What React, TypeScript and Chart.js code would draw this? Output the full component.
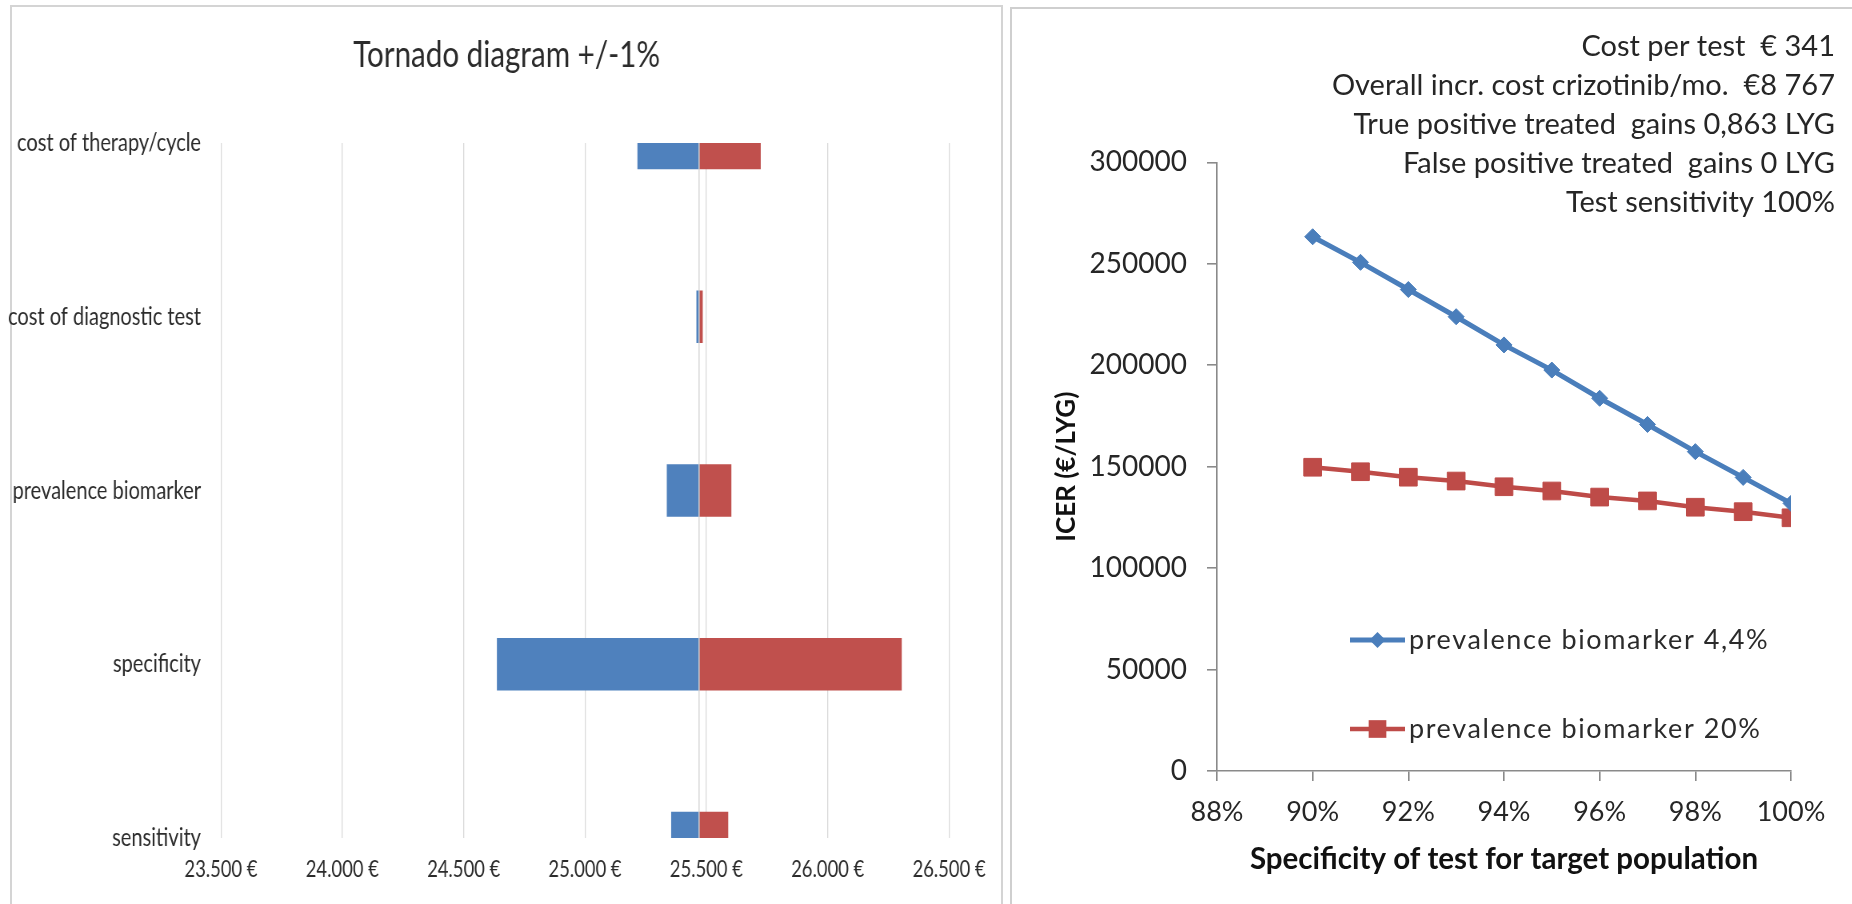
import React, { useEffect, useRef } from 'react';
import { Chart, registerables } from 'chart.js';

Chart.register(...registerables);

// ---------- Data: tornado diagram ----------
const tornadoTitle = 'Tornado diagram +/-1%';
const tornadoCategories = [
  'cost of therapy/cycle',
  'cost of diagnostic test',
  'prevalence biomarker',
  'specificity',
  'sensitivity',
];
const tornadoBase = 25470;
const tornadoLow = [25217, 25460, 25338, 24638, 25356];
const tornadoHigh = [25723, 25484, 25602, 26304, 25589];
const tornadoAxisMin = 23500;
const tornadoAxisMax = 26500;
const tornadoAxisStep = 500;

// ---------- Data: ICER vs specificity ----------
const specificityPct = [90, 91, 92, 93, 94, 95, 96, 97, 98, 99, 100];
const icerPrev44 = [263300, 250700, 237300, 223900, 210000, 197600, 183700, 170800, 157400, 144700, 131900];
const icerPrev20 = [149700, 147500, 144800, 142900, 140100, 138000, 135000, 133100, 130000, 127800, 124800];
const seriesLabels = ['prevalence biomarker 4,4%', 'prevalence biomarker 20%'];
const xAxisTitle = 'Specificity of test for target population';
const yAxisTitle = 'ICER (€/LYG)';
const annotationLines = [
  'Cost per test  € 341',
  'Overall incr. cost crizotinib/mo.  €8 767',
  'True positive treated  gains 0,863 LYG',
  'False positive treated  gains 0 LYG',
  'Test sensitivity 100%',
];

// ---------- Styling / layout ----------
const BLUE = '#4F81BD';
const RED = '#C0504D';
const LINE_BLUE = '#4A7EBB';
const LINE_RED = '#BE4B48';
const SX = 0.8; // horizontal condensation of the left panel
const LEFT_W = 1250;
const LEFT_H = 904;
const RIGHT_W = 837;
const RIGHT_H = 894;
const LEGEND_ROW_OFFSETS = [477.7, 566.7];

const fmtEuro = (v: number) => {
  const th = Math.floor(v / 1000);
  const rest = String(Math.round(v % 1000)).padStart(3, '0');
  return `${th}.${rest} €`;
};

const baseLinePlugin = {
  id: 'baseLine',
  afterDatasetsDraw(chart: any) {
    const { ctx, chartArea, scales } = chart;
    const x = scales.x.getPixelForValue(tornadoBase);
    ctx.save();
    ctx.strokeStyle = '#d4d4d4';
    ctx.lineWidth = 1.4;
    ctx.beginPath();
    ctx.moveTo(x, chartArea.top);
    ctx.lineTo(x, chartArea.bottom);
    ctx.stroke();
    ctx.restore();
  },
};

const tornadoTitlePlugin = {
  id: 'tornadoTitle',
  afterDraw(chart: any) {
    const { ctx, chartArea } = chart;
    ctx.save();
    ctx.font = 'normal 37px Lato';
    ctx.fillStyle = '#2b2b2b';
    ctx.textAlign = 'center';
    ctx.textBaseline = 'middle';
    ctx.fillText(tornadoTitle, chartArea.left + 357, 55);
    ctx.restore();
  },
};

function drawMarker(ctx: CanvasRenderingContext2D, style: string, x: number, y: number, r: number, color: string) {
  ctx.save();
  ctx.fillStyle = color;
  ctx.beginPath();
  if (style === 'rectRot') {
    ctx.moveTo(x, y - r);
    ctx.lineTo(x + r, y);
    ctx.lineTo(x, y + r);
    ctx.lineTo(x - r, y);
    ctx.closePath();
  } else {
    const s = r * Math.SQRT1_2;
    ctx.rect(x - s, y - s, 2 * s, 2 * s);
  }
  ctx.fill();
  ctx.restore();
}

const innerLegendPlugin = {
  id: 'innerLegend',
  afterDatasetsDraw(chart: any) {
    const { ctx, chartArea } = chart;
    chart.data.datasets.forEach((ds: any, i: number) => {
      const y = chartArea.top + LEGEND_ROW_OFFSETS[i];
      const x0 = chartArea.left + 133;
      const x1 = chartArea.left + 188;
      ctx.save();
      ctx.strokeStyle = ds.borderColor;
      ctx.lineWidth = ds.borderWidth;
      ctx.beginPath();
      ctx.moveTo(x0, y);
      ctx.lineTo(x1, y);
      ctx.stroke();
      drawMarker(ctx, ds.pointStyle, (x0 + x1) / 2, y, ds.pointRadius, ds.pointBackgroundColor);
      ctx.font = '27px Lato';
      (ctx as any).letterSpacing = '1.6px';
      ctx.fillStyle = '#2b2b2b';
      ctx.textAlign = 'left';
      ctx.textBaseline = 'middle';
      ctx.fillText(ds.label, chartArea.left + 192, y);
      ctx.restore();
    });
  },
};

const annotationPlugin = {
  id: 'annotationText',
  afterDraw(chart: any) {
    const { ctx, chartArea } = chart;
    ctx.save();
    ctx.font = '29px Lato';
    ctx.fillStyle = '#262626';
    ctx.textAlign = 'right';
    ctx.textBaseline = 'middle';
    annotationLines.forEach((t, i) => {
      ctx.fillText(t, chartArea.right + 44, 36.7 + i * 38.9);
    });
    ctx.restore();
  },
};

export default function App() {
  const leftRef = useRef<HTMLCanvasElement>(null);
  const rightRef = useRef<HTMLCanvasElement>(null);

  useEffect(() => {
    const left = new Chart(leftRef.current as HTMLCanvasElement, {
      type: 'bar',
      data: {
        labels: tornadoCategories,
        datasets: [
          {
            label: 'low',
            data: tornadoCategories.map((_, i) => [tornadoLow[i], tornadoBase]),
            backgroundColor: BLUE,
            borderWidth: 0,
            grouped: false,
            barThickness: 52,
            clip: 0,
          } as any,
          {
            label: 'high',
            data: tornadoCategories.map((_, i) => [tornadoBase, tornadoHigh[i]]),
            backgroundColor: RED,
            borderWidth: 0,
            grouped: false,
            barThickness: 52,
            clip: 0,
          } as any,
        ],
      },
      options: {
        indexAxis: 'y',
        responsive: false,
        animation: false,
        layout: { padding: { left: 0, right: 56.25, top: 143, bottom: 0 } },
        plugins: {
          legend: { display: false },
          tooltip: { enabled: false },
          title: { display: false },
        },
        scales: {
          x: {
            type: 'linear',
            min: tornadoAxisMin,
            max: tornadoAxisMax,
            ticks: {
              stepSize: tornadoAxisStep,
              callback: (v: any) => fmtEuro(Number(v)),
              font: { family: 'Lato', size: 23 },
              color: '#2b2b2b',
              padding: 18,
              maxRotation: 0,
              autoSkip: false,
            },
            grid: { color: '#d9d9d9', lineWidth: 1.3, drawTicks: false },
            border: { display: false },
            afterFit: (s: any) => {
              s.height = 66;
            },
          },
          y: {
            type: 'category',
            offset: false,
            ticks: {
              font: { family: 'Lato', size: 25 },
              color: '#2b2b2b',
              padding: 25,
              autoSkip: false,
            },
            grid: { display: false, drawTicks: false },
            border: { display: false },
            afterFit: (s: any) => {
              s.width = 276.25;
            },
          },
        },
      } as any,
      plugins: [baseLinePlugin, tornadoTitlePlugin],
    });

    const right = new Chart(rightRef.current as HTMLCanvasElement, {
      type: 'line',
      data: {
        datasets: [
          {
            label: seriesLabels[0],
            data: specificityPct.map((x, i) => ({ x, y: icerPrev44[i] })),
            borderColor: LINE_BLUE,
            backgroundColor: LINE_BLUE,
            pointBackgroundColor: LINE_BLUE,
            pointBorderColor: LINE_BLUE,
            borderWidth: 5,
            pointStyle: 'rectRot',
            pointRadius: 8,
            pointBorderWidth: 1,
            tension: 0,
          },
          {
            label: seriesLabels[1],
            data: specificityPct.map((x, i) => ({ x, y: icerPrev20[i] })),
            borderColor: LINE_RED,
            backgroundColor: LINE_RED,
            pointBackgroundColor: LINE_RED,
            pointBorderColor: LINE_RED,
            borderWidth: 4.5,
            pointStyle: 'rect',
            pointRadius: 12.5,
            pointBorderWidth: 1,
            tension: 0,
          },
        ],
      },
      options: {
        responsive: false,
        animation: false,
        layout: { padding: { top: 152.3, right: 59, left: 0, bottom: 0 } },
        plugins: {
          legend: { display: false },
          tooltip: { enabled: false },
        },
        scales: {
          x: {
            type: 'linear',
            min: 88,
            max: 100,
            ticks: {
              stepSize: 2,
              callback: (v: any) => `${v}%`,
              font: { family: 'Lato', size: 27 },
              color: '#262626',
              padding: 15,
              maxRotation: 0,
            },
            grid: { display: true, drawOnChartArea: false, drawTicks: true, tickLength: 10, color: '#8a8a8a', lineWidth: 1.6 },
            border: { display: true, color: '#8a8a8a', width: 1.6 },
            title: {
              display: true,
              text: xAxisTitle,
              color: '#111',
              font: { family: 'Lato', size: 29.5, weight: 'bold' },
              padding: { top: 0, bottom: 27 },
            },
            afterFit: (s: any) => {
              s.height = 133;
            },
          },
          y: {
            type: 'linear',
            min: 0,
            max: 300000,
            ticks: {
              stepSize: 50000,
              callback: (v: any) => String(v),
              font: { family: 'Lato', size: 28 },
              color: '#262626',
              padding: 20,
            },
            grid: { display: true, drawOnChartArea: false, drawTicks: true, tickLength: 10, color: '#8a8a8a', lineWidth: 1.6 },
            border: { display: true, color: '#8a8a8a', width: 1.6 },
            title: {
              display: true,
              text: yAxisTitle,
              color: '#111',
              font: { family: 'Lato', size: 26, weight: 'bold' },
              padding: { top: 38, bottom: 0 },
            },
            afterFit: (s: any) => {
              s.width = 204;
            },
          },
        },
      } as any,
      plugins: [innerLegendPlugin, annotationPlugin],
    });

    return () => {
      left.destroy();
      right.destroy();
    };
  }, []);

  return (
    <div
      style={{
        position: 'fixed',
        left: 0,
        top: 0,
        width: 1852,
        height: 904,
        overflow: 'hidden',
        background: '#ffffff',
      }}
    >
      <div
        style={{
          position: 'absolute',
          left: 10,
          top: 5,
          width: 993,
          height: 960,
          border: '2px solid #d4d4d4',
          boxSizing: 'border-box',
        }}
      />
      <div
        style={{
          position: 'absolute',
          left: 1010,
          top: 7,
          width: 900,
          height: 960,
          border: '2px solid #cfcfcf',
          boxSizing: 'border-box',
        }}
      />
      <canvas
        ref={leftRef}
        width={LEFT_W}
        height={LEFT_H}
        style={{
          position: 'absolute',
          left: 0,
          top: 0,
          width: LEFT_W,
          height: LEFT_H,
          transform: `scaleX(${SX})`,
          transformOrigin: '0 0',
        }}
      />
      <canvas
        ref={rightRef}
        width={RIGHT_W}
        height={RIGHT_H}
        style={{ position: 'absolute', left: 1013, top: 10, width: RIGHT_W, height: RIGHT_H }}
      />
    </div>
  );
}
